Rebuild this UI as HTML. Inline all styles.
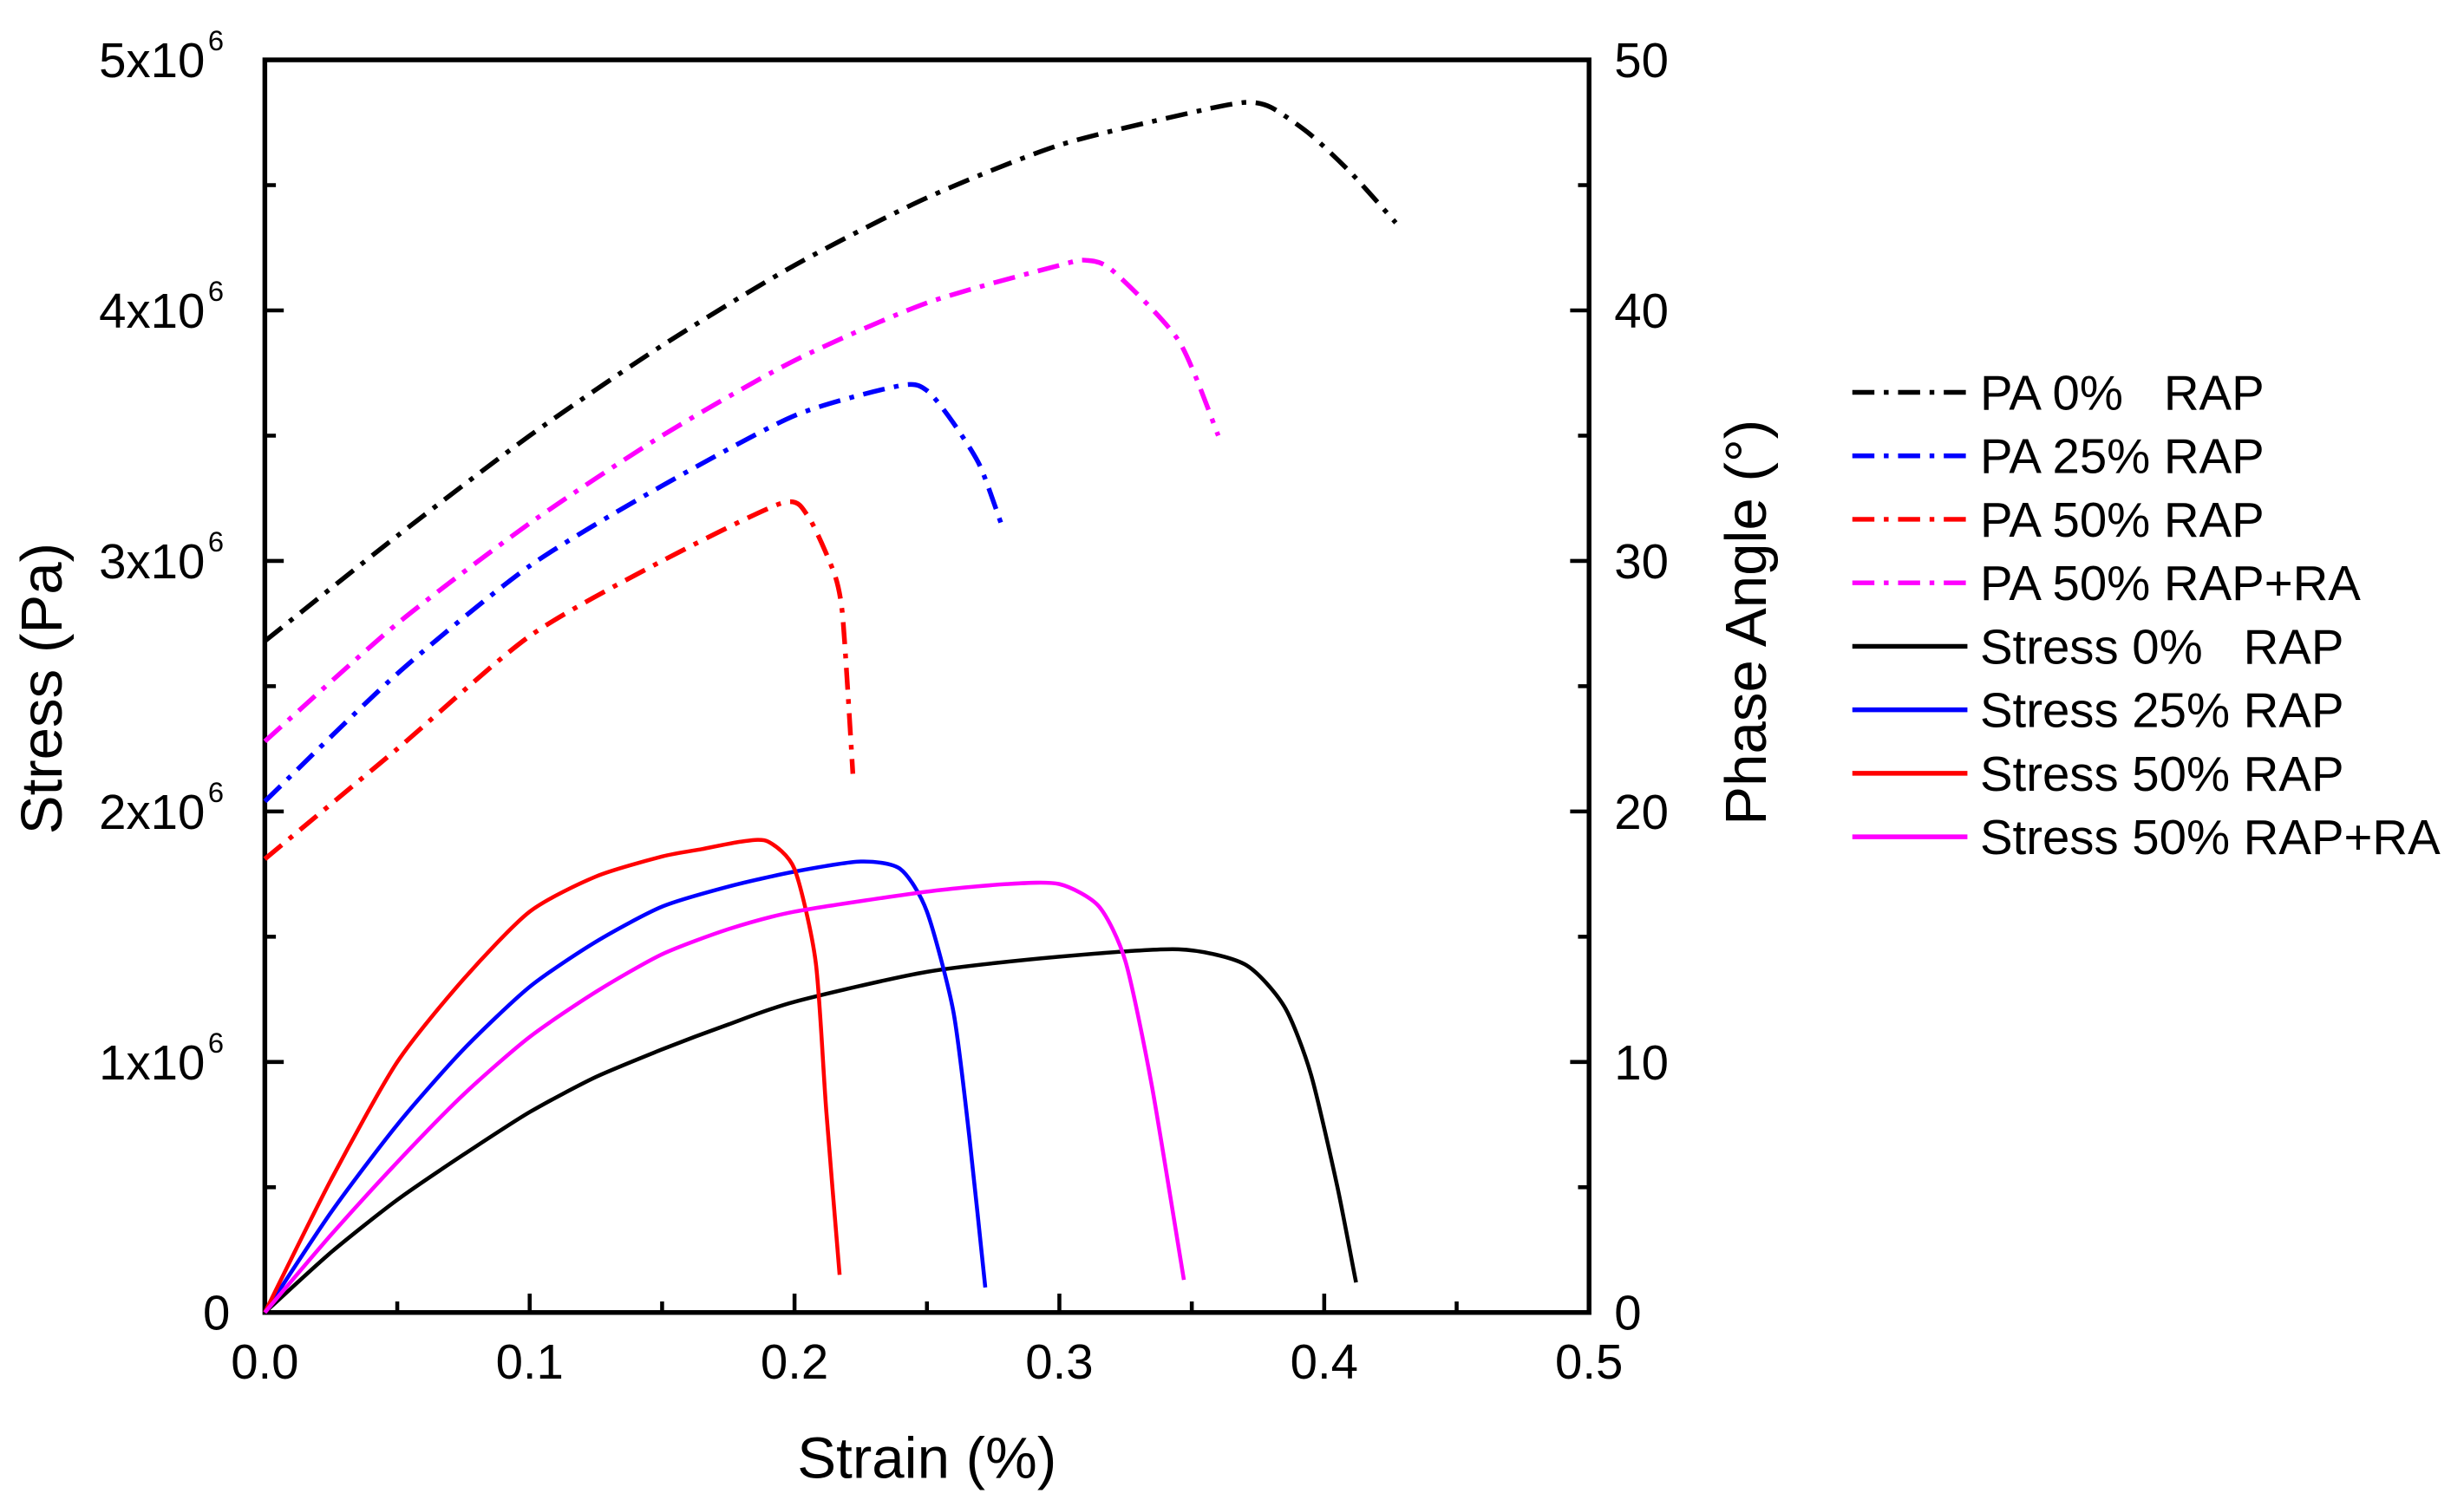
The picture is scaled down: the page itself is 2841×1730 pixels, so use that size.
<!DOCTYPE html>
<html><head><meta charset="utf-8"><style>
html,body{margin:0;padding:0;background:#fff}
svg{display:block}
text{font-family:"Liberation Sans",sans-serif;fill:#000}
</style></head><body>
<svg id="chart" width="2841" height="1730" viewBox="0 0 1563 952" preserveAspectRatio="none" xmlns="http://www.w3.org/2000/svg">
<g id="axes"></g>
<g id="series"></g>
<g id="legend"></g>
</svg>
<script>
const xTicks=[0,0.1,0.2,0.3,0.4,0.5];
const xTickLabels=["0.0","0.1","0.2","0.3","0.4","0.5"];
const yLeftTicks=[0,1,2,3,4,5];
const yLeftLabels=["0","1x10","2x10","3x10","4x10","5x10"];
const yRightTicks=[0,10,20,30,40,50];
const seriesNames=["PA 0%   RAP","PA 25% RAP","PA 50% RAP","PA 50% RAP+RA","Stress 0%   RAP","Stress 25% RAP","Stress 50% RAP","Stress 50% RAP+RA"];
const seriesColors=["#000","#00f","#f00","#f0f","#000","#00f","#f00","#f0f"];
const pa0x=[0,0.05,0.1,0.15,0.2,0.25,0.3,0.35,0.37,0.38,0.395,0.41,0.427];
const pa0y=[26.8,31,35,38.6,41.8,44.5,46.6,47.9,48.3,48.1,47,45.5,43.5];
const pa25x=[0,0.05,0.1,0.15,0.2,0.24,0.25,0.26,0.27,0.278];
const pa25y=[20.4,25.5,29.8,33,35.8,37,36.8,35.5,33.8,31.5];
const pa50x=[0,0.05,0.1,0.15,0.195,0.205,0.215,0.218,0.22,0.222];
const pa50y=[18.1,22.5,27,30,32.3,31.8,29.5,28,25,21.5];
const paRAx=[0,0.05,0.1,0.15,0.2,0.25,0.3,0.31,0.32,0.345,0.36];
const paRAy=[22.8,27.5,31.5,35,38,40.3,41.8,42,41.6,38.8,35];
const s0x=[0,0.025,0.05,0.075,0.1,0.125,0.15,0.175,0.2,0.25,0.3,0.345,0.37,0.385,0.395,0.405,0.412];
const s0y=[0,0.24,0.45,0.63,0.8,0.94,1.05,1.15,1.24,1.36,1.42,1.45,1.39,1.22,0.95,0.5,0.12];
const s25x=[0,0.025,0.05,0.075,0.1,0.125,0.15,0.175,0.2,0.225,0.24,0.25,0.26,0.266,0.272];
const s25y=[0,0.4,0.75,1.05,1.3,1.48,1.62,1.7,1.76,1.8,1.77,1.6,1.2,0.7,0.1];
const s50x=[0,0.025,0.05,0.075,0.1,0.125,0.15,0.165,0.18,0.19,0.2,0.208,0.212,0.217];
const s50y=[0,0.53,1.0,1.33,1.6,1.74,1.82,1.85,1.88,1.88,1.77,1.4,0.8,0.15];
const sRAx=[0,0.025,0.05,0.075,0.1,0.125,0.15,0.175,0.2,0.25,0.28,0.3,0.315,0.325,0.335,0.347];
const sRAy=[0,0.31,0.6,0.87,1.1,1.28,1.43,1.53,1.6,1.68,1.71,1.71,1.62,1.4,0.9,0.13];

const NS="http://www.w3.org/2000/svg";
const L=168,R=1008,T=38,B=833;
const sx=v=>L+(R-L)*v/0.5;
const syL=v=>B-(B-T)*v/5;
const syR=v=>B-(B-T)*v/50;
function mk(tag,attrs,parent){const e=document.createElementNS(NS,tag);for(const k in attrs)e.setAttribute(k,attrs[k]);parent.appendChild(e);return e;}
function smooth(p){let d=`M${p[0][0].toFixed(1)},${p[0][1].toFixed(1)}`;const k=0.12;
 for(let i=0;i<p.length-1;i++){const p0=p[i-1]||p[i],p1=p[i],p2=p[i+1],p3=p[i+2]||p2;
  const c1=[p1[0]+(p2[0]-p0[0])*k,p1[1]+(p2[1]-p0[1])*k],c2=[p2[0]-(p3[0]-p1[0])*k,p2[1]-(p3[1]-p1[1])*k];
  d+=` C${c1[0].toFixed(1)},${c1[1].toFixed(1)} ${c2[0].toFixed(1)},${c2[1].toFixed(1)} ${p2[0].toFixed(1)},${p2[1].toFixed(1)}`;}
 return d;}
const axes=document.getElementById('axes'),ser=document.getElementById('series'),leg=document.getElementById('legend');

const frame=mk('rect',{x:L,y:T,width:R-L,height:B-T,fill:'none',stroke:'#000','stroke-width':3},axes);


for(let i=0;i<=10;i++){const v=i*0.05,x=sx(v),len=i%2==0?12:7;
 const t=mk('line',{x1:x,x2:x,y1:B,y2:B-len,stroke:'#000','stroke-width':2.5},axes);
 
 }
for(let i=0;i<=10;i++){const v=i*0.5,y=syL(v),len=i%2==0?12:7;
 const t=mk('line',{x1:L,x2:L+len,y1:y,y2:y,stroke:'#000','stroke-width':2.5},axes);
 
 
 const t2=mk('line',{x1:R,x2:R-len,y1:y,y2:y,stroke:'#000','stroke-width':2.5},axes);
 
 }
xTicks.forEach((v,i)=>{const t=mk('text',{x:sx(v),y:B+42,'font-size':31,'text-anchor':'middle'},axes);t.textContent=xTickLabels[i];
 
 });
yLeftTicks.forEach((v,i)=>{const t=mk('text',{x:v==0?146:130,y:syL(v)+11,'font-size':31,'text-anchor':'end'},axes);t.textContent=yLeftLabels[i];
 
 
 if(v>0){const e=mk('text',{x:132,y:syL(v)-6,'font-size':18},axes);e.textContent='6';
 
 }});
yRightTicks.forEach(v=>{const t=mk('text',{x:1024,y:syR(v)+11,'font-size':31},axes);t.textContent=String(v);
 
 });
let t=mk('text',{x:588,y:938,'font-size':37,'text-anchor':'middle'},axes);t.textContent='Strain (%)';


t=mk('text',{x:0,y:0,'font-size':37,'text-anchor':'middle',transform:'translate(39,437) rotate(-90)'},axes);t.textContent='Stress (Pa)';


t=mk('text',{x:0,y:0,'font-size':37,'text-anchor':'middle',transform:'translate(1120,395) rotate(-90)'},axes);t.textContent='Phase Angle (°)';



const data=[[pa0x,pa0y,1],[pa25x,pa25y,1],[pa50x,pa50y,1],[paRAx,paRAy,1],[s0x,s0y,0],[s25x,s25y,0],[s50x,s50y,0],[sRAx,sRAy,0]];
const dash="14 6 3 6";
data.forEach((d,i)=>{const [xs,ys,pa]=d;
 const pts=xs.map((x,j)=>[sx(x),pa?syR(ys[j]):syL(ys[j])]);
 const a={d:smooth(pts),fill:'none',stroke:seriesColors[i],'stroke-width':pa?3:2.5,'stroke-linejoin':'round'};
 if(pa)a['stroke-dasharray']=dash;
 const p=mk('path',a,ser);
 
 });
seriesNames.forEach((n,i)=>{const y=249+i*40.3;
 const a={x1:1175,x2:1248,y1:y,y2:y,stroke:seriesColors[i],'stroke-width':3};
 if(i<4)a['stroke-dasharray']=dash;
 const l=mk('line',a,leg);
 
 
 const tx=mk('text',{x:1256,y:y+11,'font-size':31,'xml:space':'preserve'},leg);tx.textContent=n;tx.style.whiteSpace='pre';
 
 });
</script>
</body></html>
